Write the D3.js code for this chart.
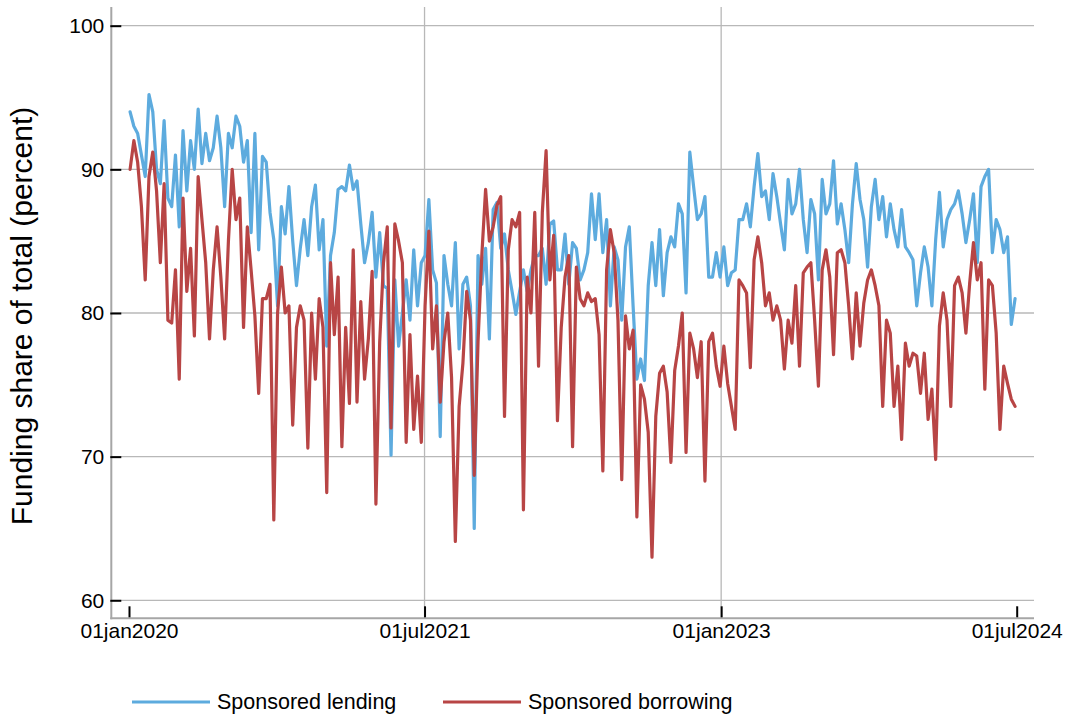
<!DOCTYPE html>
<html>
<head>
<meta charset="utf-8">
<script src="https://cdn.jsdelivr.net/npm/d3@7"></script>
<style>
  body { margin: 0; background: #fff; }
  svg { display: block; }
  text { font-family: "Liberation Sans", Arial, Helvetica, sans-serif; fill: #000; }
</style>
</head>
<body>
<svg id="chart" width="1066" height="715"></svg>
<script>
// Weekly readings (Fridays, 03jan2020 .. 28jun2024), percent
const lendingShare = [
  94.0, 93.0, 92.5, 91.0, 89.5, 95.2, 94.0, 90.0, 89.0, 93.4,
  88.0, 87.4, 91.0, 86.0, 92.7, 88.5, 92.0, 90.0, 94.2, 90.4,
  92.5, 90.6, 91.5, 93.7, 91.5, 87.4, 92.5, 91.5, 93.7, 93.0,
  90.5, 92.0, 85.6, 92.5, 84.4, 90.9, 90.5, 87.0, 85.1, 80.5,
  87.4, 85.5, 88.8, 85.0, 81.9, 84.5, 86.5, 84.0, 87.4, 88.9,
  84.4, 86.5, 77.7, 84.0, 85.6, 88.6, 88.8, 88.5, 90.3, 88.6,
  89.2, 86.2, 83.5, 84.9, 87.0, 82.5, 85.6, 81.9, 81.7, 70.1,
  82.3, 77.7, 80.0, 82.3, 79.5, 84.4, 80.5, 83.5, 84.0, 87.9,
  83.0, 82.1, 71.4, 84.0, 82.0, 80.5, 84.9, 77.5, 82.0, 82.5,
  80.5, 65.0, 84.0, 82.0, 84.5, 78.2, 87.2, 87.7, 84.5, 85.5,
  83.0, 81.5, 79.9, 81.5, 83.0, 81.5, 83.0, 84.0, 84.0, 84.5,
  82.0, 86.2, 86.4, 83.0, 83.0, 85.5, 82.0, 84.9, 84.5, 82.3,
  83.0, 84.2, 88.3, 85.1, 88.3, 84.2, 86.5, 80.5, 84.6, 83.7,
  79.5, 84.6, 86.0, 80.5, 75.4, 76.8, 75.3, 81.9, 84.9, 81.9,
  85.8, 81.2, 84.2, 85.3, 84.6, 87.6, 86.9, 81.4, 91.2, 88.8,
  86.5, 86.9, 88.1, 82.5, 82.5, 84.2, 82.5, 84.6, 81.9, 82.8,
  83.0, 86.5, 86.5, 87.6, 86.0, 88.8, 91.1, 88.1, 88.5, 86.5,
  89.7, 88.1, 86.2, 84.4, 89.3, 86.9, 87.6, 90.0, 86.5, 84.2,
  87.9, 86.9, 82.3, 89.3, 86.9, 87.6, 90.6, 86.2, 87.6, 85.8,
  83.5, 87.6, 90.4, 87.9, 86.5, 83.2, 87.4, 89.3, 86.5, 88.1,
  85.3, 87.6, 85.8, 84.6, 87.2, 84.6, 84.2, 83.7, 80.5, 82.8,
  84.6, 83.2, 80.5, 85.1, 88.4, 84.6, 86.5, 87.2, 87.6, 88.5,
  86.9, 84.9, 86.5, 88.3, 83.5, 88.8, 89.5, 90.0, 84.2, 86.5,
  85.8, 84.2, 85.3, 79.2, 81.0
];

const borrowingShare = [
  90.0, 92.0, 90.5, 87.4, 82.3, 89.5, 91.2, 88.5, 83.5, 89.0,
  79.5, 79.3, 83.0, 75.4, 88.0, 81.5, 84.5, 78.4, 89.5, 86.5,
  83.5, 78.2, 83.0, 86.0, 82.5, 78.2, 85.0, 90.0, 86.5, 88.0,
  79.0, 86.0, 83.0, 79.8, 74.4, 81.0, 81.0, 82.0, 65.6, 80.0,
  83.2, 80.0, 80.5, 72.2, 79.0, 80.5, 79.5, 70.6, 80.0, 75.4,
  81.0, 79.0, 67.5, 83.5, 78.5, 82.5, 70.7, 79.0, 73.7, 84.4,
  73.8, 80.8, 75.4, 78.2, 82.9, 66.7, 78.0, 83.5, 86.0, 72.0,
  86.2, 85.0, 83.5, 71.0, 78.5, 71.9, 75.6, 71.0, 80.5, 85.7,
  77.5, 80.5, 73.8, 78.0, 80.0, 75.5, 64.1, 73.5, 76.5, 81.5,
  79.5, 68.7, 78.0, 84.0, 88.6, 85.0, 86.0, 87.5, 88.1, 72.8,
  84.4, 86.5, 86.0, 87.0, 66.3, 82.5, 80.0, 87.0, 76.3, 87.0,
  91.3, 82.3, 85.4, 72.5, 79.0, 82.5, 84.0, 70.7, 83.2, 81.0,
  80.5, 81.4, 80.8, 81.0, 78.5, 69.0, 83.0, 85.8, 84.2, 79.5,
  68.4, 79.8, 77.5, 78.8, 65.8, 75.0, 74.0, 71.7, 63.0, 72.8,
  75.8, 76.3, 74.5, 69.6, 76.0, 77.7, 80.0, 70.3, 78.6, 77.5,
  75.5, 78.0, 68.3, 78.0, 78.6, 76.3, 74.9, 77.7, 75.1, 73.5,
  71.9, 82.3, 81.9, 81.4, 76.2, 83.7, 85.3, 83.5, 80.5, 81.4,
  79.5, 80.5, 79.5, 76.1, 79.5, 77.9, 81.9, 76.3, 82.8, 83.2,
  83.5, 79.5, 74.9, 83.0, 84.4, 82.5, 77.1, 84.2, 84.4, 83.5,
  80.5, 76.8, 81.4, 77.7, 80.7, 82.3, 83.0, 81.9, 80.5, 73.5,
  79.5, 78.6, 73.5, 76.3, 71.2, 77.9, 76.3, 77.2, 77.0, 74.4,
  77.2, 72.6, 74.7, 69.8, 79.1, 81.4, 79.5, 73.5, 81.9, 82.5,
  81.4, 78.6, 82.1, 84.9, 82.3, 83.5, 74.7, 82.3, 81.9, 78.6,
  71.9, 76.3, 75.1, 74.0, 73.5
];

const xTickDates = ["2020-01-01", "2021-07-01", "2023-01-01", "2024-07-01"];
const yTickValues = [60, 70, 80, 90, 100];
const seriesNames = ["Sponsored lending", "Sponsored borrowing"];
const seriesColors = ["#5dabde", "#b84545"];

// one reading per Friday
const weeks = d3.timeFriday.range(new Date(2020, 0, 3), new Date(2024, 5, 29));

const svg = d3.select("#chart");

// plot frame
const frame = { left: 111.3, right: 1034, top: 7, bottom: 618.3 };

const parseDay = d3.timeParse("%Y-%m-%d");
const xTicks = xTickDates.map(parseDay);

const x = d3.scaleTime()
    .domain([xTicks[0], xTicks[xTicks.length - 1]])
    .range([129, 1016.7]);

const y = d3.scaleLinear()
    .domain([60, 100])
    .range([600.3, 25.7]);

// horizontal grid
svg.append("g")
  .selectAll("line")
  .data(yTickValues)
  .join("line")
    .attr("x1", frame.left)
    .attr("x2", frame.right)
    .attr("y1", d => y(d))
    .attr("y2", d => y(d))
    .attr("stroke", "#b8b8b8")
    .attr("stroke-width", 1.3);

// vertical grid (inner ticks only)
svg.append("g")
  .selectAll("line")
  .data(xTicks.slice(1, -1))
  .join("line")
    .attr("x1", d => x(d))
    .attr("x2", d => x(d))
    .attr("y1", frame.top)
    .attr("y2", frame.bottom)
    .attr("stroke", "#b8b8b8")
    .attr("stroke-width", 1.3);

// series lines
const line = d3.line()
    .x(d => x(d.date))
    .y(d => y(d.value));

[lendingShare, borrowingShare].forEach(function(vals, i) {
  const pts = weeks.map((w, j) => ({ date: w, value: vals[j] }));
  svg.append("path")
      .datum(pts)
      .attr("fill", "none")
      .attr("stroke", seriesColors[i])
      .attr("stroke-width", 3.2)
      .attr("stroke-linejoin", "round")
      .attr("stroke-linecap", "round")
      .attr("d", line);
});

// axis lines
svg.append("line")
    .attr("x1", frame.left).attr("x2", frame.left)
    .attr("y1", frame.top).attr("y2", frame.bottom + 1)
    .attr("stroke", "#a6a6a6").attr("stroke-width", 2);
svg.append("line")
    .attr("x1", frame.left - 1).attr("x2", frame.right)
    .attr("y1", frame.bottom).attr("y2", frame.bottom)
    .attr("stroke", "#a6a6a6").attr("stroke-width", 2);

// y axis ticks and labels
const yAxis = svg.append("g")
    .attr("transform", "translate(" + (frame.left - 1) + ",0)")
    .call(d3.axisLeft(y).tickValues(yTickValues).tickSize(-11).tickPadding(6));
yAxis.select(".domain").remove();
yAxis.selectAll(".tick line").attr("stroke", "#000").attr("stroke-width", 2);
yAxis.selectAll(".tick text").attr("font-size", 21).attr("font-family", null);

// x axis ticks and labels
const fmt = d3.timeFormat("%d%b%Y");
const xAxis = svg.append("g")
    .attr("transform", "translate(0," + (frame.bottom - 1) + ")")
    .call(d3.axisBottom(x).tickValues(xTicks).tickSize(-11).tickPadding(6)
      .tickFormat(d => fmt(d).toLowerCase()));
xAxis.select(".domain").remove();
xAxis.selectAll(".tick line").attr("stroke", "#000").attr("stroke-width", 2);
xAxis.selectAll(".tick text").attr("font-size", 21).attr("font-family", null);

// y axis title
svg.append("text")
    .attr("transform", "translate(32,316) rotate(-90)")
    .attr("text-anchor", "middle")
    .attr("font-size", 30)
    .text("Funding share of total (percent)");

// legend
const legendX = [132, 443];
seriesNames.forEach(function(name, i) {
  const g = svg.append("g").attr("transform", "translate(" + legendX[i] + ",702)");
  g.append("line")
      .attr("x1", 0).attr("x2", 78)
      .attr("stroke", seriesColors[i])
      .attr("stroke-width", 3);
  g.append("text")
      .attr("x", 85)
      .attr("y", 7)
      .attr("font-size", 21.5)
      .text(name);
});
</script>
</body>
</html>
